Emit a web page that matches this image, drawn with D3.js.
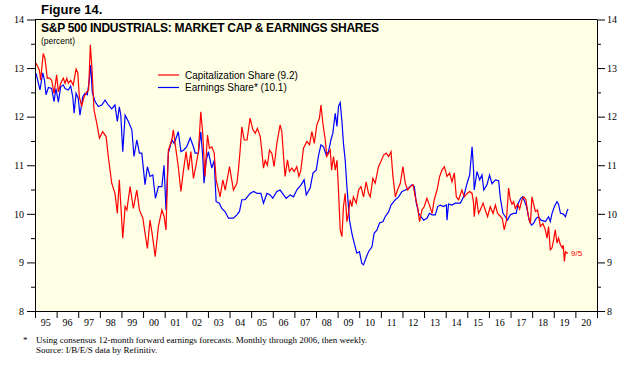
<!DOCTYPE html>
<html>
<head>
<meta charset="utf-8">
<script src="https://cdn.jsdelivr.net/npm/d3@7"></script>
<style>
  body { margin: 0; background: #fff; }
  .axis text { font-family: "Liberation Serif", "Times New Roman", serif; font-size: 10px; fill: #000; }
  .axis path, .axis line { stroke: #000; }
</style>
</head>
<body>
<div id="chart"></div>
<script>
// S&P 500 industrials: cap share (red) and earnings share (blue), percent
var capShare = [
  [1995.05,13.1],[1995.20,12.96],[1995.26,12.75],[1995.38,13.3],[1995.46,13.2],[1995.57,12.79],[1995.66,12.8],
  [1995.77,12.75],[1995.88,12.48],[1996.00,12.86],[1996.08,12.51],[1996.19,12.69],[1996.31,12.79],[1996.39,12.69],
  [1996.47,12.79],[1996.54,12.69],[1996.65,12.75],[1996.77,12.65],[1996.90,12.98],[1996.98,12.9],[1997.05,12.41],
  [1997.16,12.21],[1997.27,12.41],[1997.39,12.51],[1997.48,12.55],[1997.56,13.48],[1997.64,12.96],[1997.73,12.14],
  [1997.86,11.86],[1997.98,11.56],[1998.13,11.69],[1998.29,11.59],[1998.39,11.18],[1998.55,10.63],[1998.70,10.42],
  [1998.81,10.01],[1998.90,10.70],[1999.06,9.50],[1999.17,10.15],[1999.25,10.08],[1999.40,10.56],[1999.55,10.11],
  [1999.71,10.49],[1999.83,10.08],[1999.99,9.91],[2000.09,9.60],[2000.20,9.29],[2000.32,9.87],[2000.43,9.56],
  [2000.56,9.12],[2000.71,9.74],[2000.87,10.08],[2000.97,9.95],[2001.06,9.67],[2001.17,11.31],[2001.33,11.52],
  [2001.40,11.73],[2001.48,11.45],[2001.63,10.97],[2001.75,10.46],[2001.87,10.9],[2001.99,11.28],[2002.10,10.9],
  [2002.21,11.28],[2002.33,10.73],[2002.45,11.0],[2002.56,11.28],[2002.67,12.1],[2002.76,11.66],[2002.86,10.77],
  [2002.98,11.62],[2003.07,11.35],[2003.18,11.38],[2003.29,11.25],[2003.38,10.70],[2003.49,10.49],[2003.56,10.35],
  [2003.69,10.70],[2003.80,10.49],[2004.00,10.97],[2004.18,10.49],[2004.34,10.63],[2004.41,10.9],[2004.49,11.31],
  [2004.57,11.79],[2004.68,11.52],[2004.81,11.52],[2004.95,11.97],[2005.08,11.73],[2005.19,11.66],[2005.29,11.76],
  [2005.42,11.59],[2005.49,11.31],[2005.57,10.94],[2005.65,11.1],[2005.75,11.0],[2005.85,11.31],[2005.96,11.24],
  [2006.06,10.97],[2006.19,11.45],[2006.34,11.83],[2006.42,11.69],[2006.50,11.18],[2006.57,10.77],[2006.68,11.11],
  [2006.77,10.87],[2006.88,10.94],[2006.99,10.87],[2007.11,10.97],[2007.21,10.77],[2007.30,10.9],[2007.42,11.35],
  [2007.58,11.49],[2007.70,11.42],[2007.81,11.69],[2007.92,11.45],[2008.04,11.83],[2008.16,11.97],[2008.23,12.24],
  [2008.32,11.86],[2008.43,11.52],[2008.50,11.18],[2008.66,11.31],[2008.72,10.9],[2008.81,11.18],[2008.89,10.9],
  [2008.97,11.1],[2009.04,10.49],[2009.12,9.67],[2009.20,9.53],[2009.27,10.15],[2009.35,10.42],[2009.43,9.84],
  [2009.50,10.01],[2009.58,10.29],[2009.66,10.15],[2009.73,10.35],[2009.86,10.22],[2009.97,10.49],[2010.08,10.56],
  [2010.20,10.35],[2010.32,10.66],[2010.43,10.42],[2010.51,10.35],[2010.63,10.73],[2010.74,10.63],[2010.89,10.97],
  [2011.00,11.07],[2011.13,11.21],[2011.25,11.25],[2011.36,11.18],[2011.47,11.28],[2011.56,10.77],[2011.67,10.35],
  [2011.77,10.49],[2011.90,10.63],[2012.02,10.97],[2012.13,10.63],[2012.24,10.49],[2012.36,10.56],[2012.49,10.6],
  [2012.59,10.35],[2012.70,10.15],[2012.79,9.84],[2012.90,10.08],[2013.01,10.15],[2013.13,10.32],[2013.25,10.18],
  [2013.37,10.01],[2013.47,10.29],[2013.60,10.49],[2013.72,10.77],[2013.83,10.9],[2013.94,10.97],[2014.06,10.77],
  [2014.18,10.84],[2014.29,10.66],[2014.40,10.84],[2014.49,10.35],[2014.60,10.29],[2014.75,10.49],[2014.86,10.35],
  [2014.99,10.42],[2015.11,10.46],[2015.22,10.42],[2015.29,10.22],[2015.32,9.94],[2015.42,10.35],[2015.52,10.01],
  [2015.60,10.08],[2015.73,10.22],[2015.83,10.08],[2015.94,9.94],[2016.06,10.15],[2016.19,10.01],[2016.30,10.18],
  [2016.40,10.01],[2016.53,9.95],[2016.62,9.9],[2016.71,9.67],[2016.81,9.87],[2016.91,10.53],[2016.99,10.29],
  [2017.07,10.2],[2017.14,10.25],[2017.22,10.11],[2017.33,10.2],[2017.42,10.1],[2017.53,10.29],[2017.61,10.35],
  [2017.71,10.29],[2017.84,9.91],[2017.92,9.8],[2017.99,10.35],[2018.07,10.2],[2018.15,10.05],[2018.25,10.08],
  [2018.38,9.74],[2018.50,9.8],[2018.61,9.67],[2018.69,9.5],[2018.76,9.74],[2018.84,9.26],[2018.92,9.3],
  [2018.99,9.46],[2019.07,9.67],[2019.15,9.4],[2019.22,9.5],[2019.31,9.36],[2019.40,9.3],[2019.44,9.35],
  [2019.49,9.02],[2019.54,9.22],[2019.61,9.19],[2019.66,9.2]
];

var earnShare = [
  [1995.05,12.89],[1995.23,12.55],[1995.36,12.9],[1995.44,12.75],[1995.51,12.45],[1995.62,12.6],[1995.77,12.58],
  [1995.88,12.31],[1995.97,12.58],[1996.08,12.3],[1996.19,12.62],[1996.31,12.65],[1996.39,12.58],[1996.54,12.55],
  [1996.65,12.63],[1996.75,12.4],[1996.81,12.07],[1996.90,12.48],[1997.00,12.38],[1997.08,12.03],[1997.21,12.41],
  [1997.31,12.48],[1997.42,12.45],[1997.51,12.75],[1997.58,13.06],[1997.65,12.5],[1997.78,12.31],[1997.93,12.21],
  [1998.09,12.24],[1998.24,12.34],[1998.39,12.24],[1998.55,12.16],[1998.70,12.24],[1998.81,11.9],[1998.90,12.2],
  [1998.97,12.03],[1999.06,11.28],[1999.17,12.03],[1999.32,11.9],[1999.48,11.73],[1999.58,11.18],[1999.71,11.52],
  [1999.83,11.25],[1999.94,11.25],[2000.09,10.6],[2000.20,10.97],[2000.32,10.77],[2000.45,10.8],[2000.57,10.32],
  [2000.71,10.56],[2000.87,10.56],[2000.97,11.0],[2001.06,10.08],[2001.17,11.25],[2001.33,11.52],[2001.44,11.45],
  [2001.63,11.69],[2001.75,11.28],[2001.87,11.31],[2002.02,11.38],[2002.18,11.56],[2002.33,11.38],[2002.41,11.25],
  [2002.56,11.25],[2002.67,11.69],[2002.76,11.18],[2002.82,10.63],[2002.92,11.1],[2003.02,11.28],[2003.18,10.94],
  [2003.29,11.1],[2003.38,10.25],[2003.53,10.22],[2003.64,10.11],[2003.80,10.04],[2003.95,9.91],[2004.18,9.91],
  [2004.34,9.98],[2004.46,10.05],[2004.57,10.29],[2004.72,10.29],[2004.95,10.42],[2005.11,10.46],[2005.29,10.42],
  [2005.45,10.42],[2005.57,10.22],[2005.73,10.42],[2005.88,10.39],[2006.00,10.32],[2006.19,10.46],[2006.34,10.49],
  [2006.50,10.39],[2006.62,10.32],[2006.81,10.39],[2006.96,10.35],[2007.11,10.49],[2007.30,10.59],[2007.45,10.7],
  [2007.55,10.39],[2007.73,10.53],[2007.86,10.84],[2008.01,10.9],[2008.12,11.21],[2008.23,11.42],[2008.35,11.38],
  [2008.47,11.21],[2008.58,11.28],[2008.69,11.52],[2008.78,11.66],[2008.89,12.07],[2008.97,11.8],[2009.04,12.21],
  [2009.12,12.29],[2009.20,11.9],[2009.27,11.45],[2009.35,11.11],[2009.43,10.56],[2009.55,9.87],[2009.66,9.6],
  [2009.77,9.39],[2009.89,9.19],[2010.01,9.22],[2010.12,8.98],[2010.20,8.95],[2010.32,9.1],[2010.43,9.22],
  [2010.59,9.32],[2010.69,9.6],[2010.82,9.67],[2010.94,9.81],[2011.10,9.84],[2011.20,9.94],[2011.36,10.04],
  [2011.47,10.18],[2011.67,10.29],[2011.82,10.35],[2011.98,10.46],[2012.13,10.49],[2012.28,10.53],[2012.44,10.6],
  [2012.55,10.56],[2012.64,10.22],[2012.75,10.01],[2012.86,9.94],[2012.98,9.87],[2013.13,9.91],[2013.25,10.01],
  [2013.37,9.98],[2013.52,9.98],[2013.63,10.15],[2013.75,10.18],[2013.90,10.15],[2014.03,10.18],[2014.06,9.87],
  [2014.13,10.2],[2014.29,10.18],[2014.44,10.22],[2014.68,10.22],[2014.83,10.35],[2014.99,10.63],[2015.11,10.8],
  [2015.22,11.38],[2015.29,10.9],[2015.32,10.49],[2015.45,10.87],[2015.57,10.7],[2015.68,10.8],[2015.76,10.49],
  [2015.91,10.6],[2016.03,10.8],[2016.14,10.62],[2016.30,10.7],[2016.45,10.68],[2016.53,10.32],[2016.65,10.01],
  [2016.76,9.94],[2016.86,9.87],[2016.99,9.98],[2017.14,10.01],[2017.26,10.01],[2017.36,10.22],[2017.47,10.32],
  [2017.56,10.35],[2017.66,10.25],[2017.74,10.15],[2017.86,9.87],[2017.97,9.77],[2018.06,9.8],[2018.19,9.91],
  [2018.30,9.94],[2018.41,9.87],[2018.61,9.84],[2018.76,9.94],[2018.84,9.84],[2018.92,10.01],[2019.03,10.15],
  [2019.15,10.25],[2019.22,10.2],[2019.31,10.01],[2019.43,10.0],[2019.54,9.94],[2019.61,10.05],[2019.66,10.1]
];

var yearTicks = d3.range(1995, 2022);
var yearLabels = ["95","96","97","98","99","00","01","02","03","04","05","06","07","08","09","10","11","12","13","14","15","16","17","18","19","20"];
var yMajor = [8, 9, 10, 11, 12, 13, 14];
var yMinor = [8.5, 9.5, 10.5, 11.5, 12.5, 13.5];
var legendItems = [
  {name: "Capitalization Share (9.2)", color: "#ff0000"},
  {name: "Earnings Share* (10.1)", color: "#0000ff"}
];

function drawChart() {
    "use strict";
    var width = 633, height = 367;
    var plotLeft = 35, plotRight = 597, plotTop = 19.5, plotBottom = 311;

    var svg = d3.select("#chart").append("svg")
        .attr("width", width)
        .attr("height", height);

    var x = d3.scaleLinear().domain([1995, 2021]).range([plotLeft, plotRight]);
    var y = d3.scaleLinear().domain([8, 14]).range([plotBottom, plotTop]);

    // plot background
    svg.append("rect")
        .attr("x", plotLeft).attr("y", plotTop)
        .attr("width", plotRight - plotLeft).attr("height", plotBottom - plotTop)
        .attr("fill", "#ffffe6");

    // left axis
    svg.append("g").attr("class", "axis")
        .attr("transform", "translate(" + plotLeft + ",0)")
        .call(d3.axisLeft(y).tickValues(yMajor).tickSize(8).tickPadding(3).tickSizeOuter(0).tickFormat(d3.format("d")));
    svg.append("g").attr("class", "axis")
        .attr("transform", "translate(" + plotLeft + ",0)")
        .call(d3.axisLeft(y).tickValues(yMinor).tickSize(4).tickFormat("").tickSizeOuter(0));

    // right axis
    svg.append("g").attr("class", "axis")
        .attr("transform", "translate(" + plotRight + ",0)")
        .call(d3.axisRight(y).tickValues(yMajor).tickSize(8).tickPadding(2).tickSizeOuter(0).tickFormat(d3.format("d")));
    svg.append("g").attr("class", "axis")
        .attr("transform", "translate(" + plotRight + ",0)")
        .call(d3.axisRight(y).tickValues(yMinor).tickSize(4).tickFormat("").tickSizeOuter(0));

    // bottom axis, labels sit between the ticks
    var xAxis = svg.append("g").attr("class", "axis")
        .attr("transform", "translate(0," + plotBottom + ")")
        .call(d3.axisBottom(x).tickValues(yearTicks).tickSize(7).tickFormat("").tickSizeOuter(0));
    xAxis.selectAll(".yearlab")
        .data(yearLabels)
        .enter()
        .append("text")
        .attr("class", "yearlab")
        .attr("x", function (d, i) { return x(1995 + i + 0.5); })
        .attr("y", 15)
        .attr("text-anchor", "middle")
        .text(function (d) { return d; });

    // top border
    svg.append("line")
        .attr("x1", plotLeft).attr("x2", plotRight)
        .attr("y1", plotTop).attr("y2", plotTop)
        .attr("stroke", "#000");

    var line = d3.line()
        .x(function (d) { return x(d[0]); })
        .y(function (d) { return y(d[1]); });

    svg.append("path").datum(earnShare)
        .attr("d", line)
        .attr("fill", "none")
        .attr("stroke", "#0000ff")
        .attr("stroke-width", 1.2);

    svg.append("path").datum(capShare)
        .attr("d", line)
        .attr("fill", "none")
        .attr("stroke", "#ff0000")
        .attr("stroke-width", 1.2);

    // end label
    var last = capShare[capShare.length - 1];
    svg.append("text")
        .attr("x", x(last[0]) + 3)
        .attr("y", y(last[1]) + 3)
        .attr("font-family", "Liberation Sans, Arial, sans-serif")
        .attr("font-size", 8)
        .attr("fill", "#ff0000")
        .text("9/5");

    // titles
    svg.append("text")
        .attr("x", 41).attr("y", 14)
        .attr("font-family", "Liberation Sans, Arial, sans-serif")
        .attr("font-size", 13).attr("font-weight", "bold")
        .text("Figure 14.");

    svg.append("text")
        .attr("x", 41).attr("y", 32)
        .attr("font-family", "Liberation Sans, Arial, sans-serif")
        .attr("font-size", 12).attr("font-weight", "bold")
        .attr("textLength", 338)
        .text("S&P 500 INDUSTRIALS: MARKET CAP & EARNINGS SHARES");

    svg.append("text")
        .attr("x", 41).attr("y", 44)
        .attr("font-family", "Liberation Sans, Arial, sans-serif")
        .attr("font-size", 8.5)
        .text("(percent)");

    // legend
    var legend = svg.append("g")
        .attr("font-family", "Liberation Sans, Arial, sans-serif")
        .attr("font-size", 10);
    legendItems.forEach(function (item, i) {
        var ly = 75 + i * 12.5;
        legend.append("line")
            .attr("x1", 158).attr("x2", 179)
            .attr("y1", ly).attr("y2", ly)
            .attr("stroke", item.color)
            .attr("stroke-width", 1.2);
        legend.append("text")
            .attr("x", 185).attr("y", ly + 3.5)
            .text(item.name);
    });

    // footnote
    var foot = svg.append("g")
        .attr("font-family", "Liberation Serif, Times New Roman, serif")
        .attr("font-size", 9);
    foot.append("text").attr("x", 23).attr("y", 343).text("*");
    foot.append("text").attr("x", 36).attr("y", 343)
        .text("Using consensus 12-month forward earnings forecasts. Monthly through 2006, then weekly.");
    foot.append("text").attr("x", 36).attr("y", 353)
        .text("Source: I/B/E/S data by Refinitiv.");
}

drawChart();
</script>
</body>
</html>
